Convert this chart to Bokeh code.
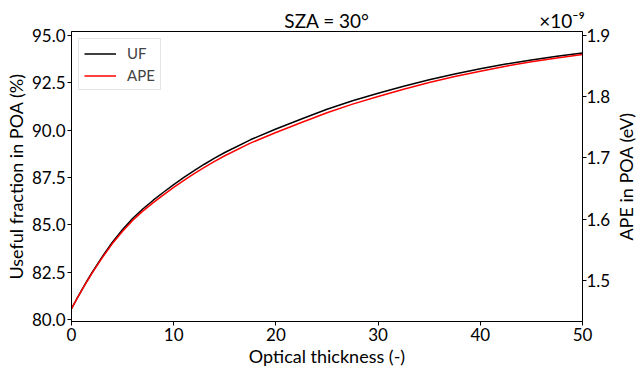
from bokeh.plotting import figure
from bokeh.layouts import row
from bokeh.models import Range1d, LinearAxis, FixedTicker, PrintfTickFormatter, Legend, LegendItem
from bokeh.embed import file_html
from bokeh.resources import INLINE

# ---- data ----
thickness = [0, 0.5, 1, 1.5, 2, 3, 4, 5, 6, 7, 8, 9, 10, 11, 12, 13, 14, 15,
             17.5, 20, 22.5, 25, 27.5, 30, 32.5, 35, 37.5, 40, 42.5, 45, 47.5, 50]
uf = [80.57, 81.07, 81.55, 82.02, 82.47, 83.31, 84.08, 84.75, 85.35, 85.85,
      86.30, 86.72, 87.12, 87.50, 87.86, 88.20, 88.52, 88.82,
      89.49, 90.06, 90.59, 91.10, 91.55, 91.95, 92.32, 92.66, 92.97, 93.24,
      93.49, 93.71, 93.90, 94.07]
ape = [1.4540, 1.4691, 1.4838, 1.4980, 1.5117, 1.5370, 1.5603, 1.5805, 1.5985, 1.6136,
       1.6272, 1.6399, 1.6520, 1.6635, 1.6744, 1.6848, 1.6945, 1.7037,
       1.7242, 1.7417, 1.7580, 1.7738, 1.7879, 1.8005, 1.8123, 1.8231, 1.8330, 1.8417,
       1.8498, 1.8570, 1.8633, 1.8689]  # in units of 1e-9 eV
x_ticks = [0, 10, 20, 30, 40, 50]
uf_ticks = [80.0, 82.5, 85.0, 87.5, 90.0, 92.5, 95.0]
ape_ticks = [1.5, 1.6, 1.7, 1.8, 1.9]
title_text = "SZA = 30°"
scale_text = "×10⁻⁹"

FONT = "Lato"
TICK_SIZE = "17px"
LABEL_SIZE = "18px"

x_lo, x_hi = 0, 50
uf_lo, uf_hi = 79.894, 95.21
ape_lo, ape_hi = 1.4331, 1.9065

TOP, BOTTOM, H = 31, 53, 374

p = figure(width=613, height=H, output_backend="svg", toolbar_location=None,
           x_range=Range1d(x_lo, x_hi), y_range=Range1d(uf_lo, uf_hi),
           min_border_left=71, min_border_right=30, min_border_top=TOP, min_border_bottom=BOTTOM)
p.extra_y_ranges = {"ape": Range1d(ape_lo, ape_hi)}

p.grid.visible = False
p.outline_line_color = "black"
p.outline_line_width = 1
p.outline_line_alpha = 1
p.background_fill_color = "white"
p.border_fill_color = "white"

r_uf = p.line(thickness, uf, line_color="black", line_width=1.5)
r_ape = p.line(thickness, ape, line_color="red", line_width=1.5, y_range_name="ape")

bottom = p.below[0]
left = p.left[0]
right = LinearAxis(y_range_name="ape")
p.add_layout(right, "right")
top = LinearAxis()
p.add_layout(top, "above")

for ax in [bottom, left, right, top]:
    ax.axis_line_color = "black"
    ax.axis_line_width = 1
    ax.major_tick_line_color = "black"
    ax.major_tick_in = 0
    ax.major_tick_out = 4
    ax.minor_tick_line_color = None
    ax.major_label_text_font = FONT
    ax.major_label_text_font_size = TICK_SIZE
    ax.major_label_text_color = "black"
    ax.axis_label_text_font = FONT
    ax.axis_label_text_font_size = LABEL_SIZE
    ax.axis_label_text_font_style = "normal"
    ax.axis_label_text_color = "black"

bottom.ticker = FixedTicker(ticks=x_ticks)
left.ticker = FixedTicker(ticks=uf_ticks)
left.formatter = PrintfTickFormatter(format="%.1f")
right.ticker = FixedTicker(ticks=ape_ticks)
right.formatter = PrintfTickFormatter(format="%.1f")

bottom.axis_label = "Optical thickness (-)"
bottom.major_label_standoff = 2
bottom.axis_label_standoff = 1
left.axis_label = "Useful fraction in POA (%)"
left.major_label_standoff = 2
left.axis_label_standoff = 2
right.major_label_standoff = 0

# title and the 1e-9 multiplier as labels of a bare top axis
top.axis_line_color = None
top.major_tick_line_color = None
top.major_tick_out = 0
top.major_label_standoff = 0
top.major_label_text_font_size = "19px"
top.ticker = FixedTicker(ticks=[25, 48])
top.major_label_overrides = {25: title_text, 48: scale_text}

legend = Legend(items=[LegendItem(label="UF", renderers=[r_uf]),
                       LegendItem(label="APE", renderers=[r_ape])],
                location="top_left")
legend.margin = 7
legend.padding = 5
legend.spacing = 4
legend.glyph_width = 32
legend.glyph_height = 17
legend.label_height = 17
legend.label_standoff = 11
legend.label_text_font = FONT
legend.label_text_font_size = "15px"
legend.border_line_color = "#cccccc"
legend.border_line_width = 1
legend.background_fill_alpha = 0.8
p.add_layout(legend)

# narrow companion figure that carries the right-hand axis title (reads bottom to top)
p2 = figure(width=23, height=H, output_backend="svg", toolbar_location=None,
            x_range=Range1d(0, 1), y_range=Range1d(ape_lo, ape_hi),
            min_border_left=22, min_border_right=0, min_border_top=TOP, min_border_bottom=BOTTOM)
p2.grid.visible = False
p2.outline_line_color = None
p2.xaxis.visible = False
ax2 = p2.left[0]
ax2.ticker = FixedTicker(ticks=[])
ax2.axis_line_color = None
ax2.major_tick_line_color = None
ax2.minor_tick_line_color = None
ax2.major_tick_out = 0
ax2.major_label_standoff = 0
ax2.axis_label = "APE in POA (eV)"
ax2.axis_label_standoff = 0
ax2.axis_label_text_font = FONT
ax2.axis_label_text_font_size = LABEL_SIZE
ax2.axis_label_text_font_style = "normal"
ax2.axis_label_text_color = "black"

layout = row(p, p2, spacing=0)
open("out.html", "w").write(file_html(layout, INLINE))
